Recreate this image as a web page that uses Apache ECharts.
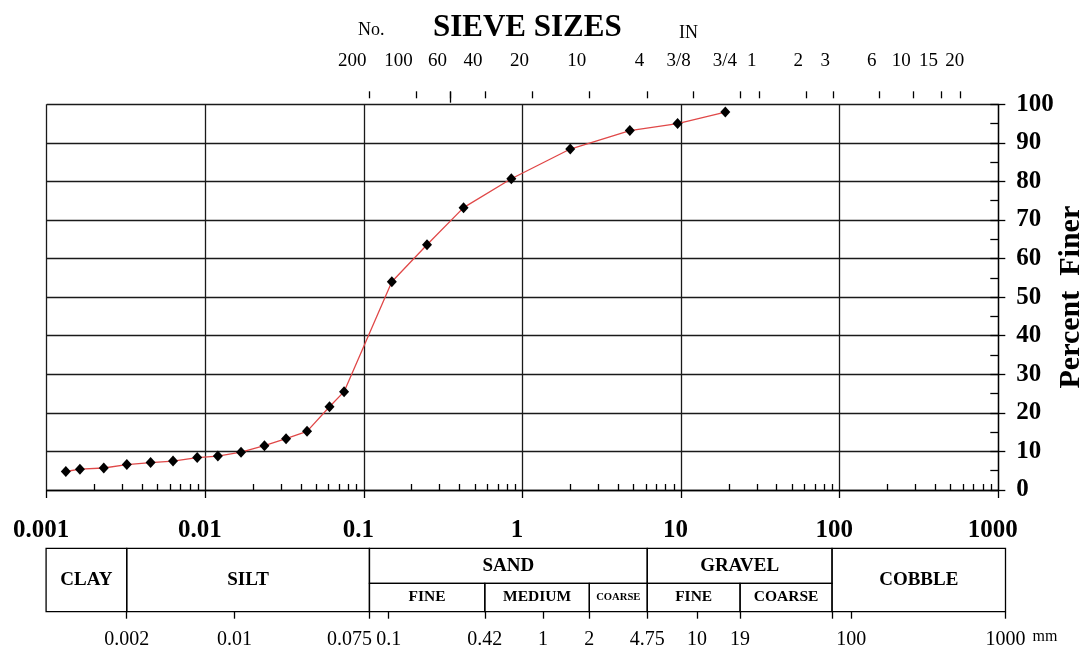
<!DOCTYPE html>
<html>
<head>
<meta charset="utf-8">
<script src="https://cdn.jsdelivr.net/npm/echarts@6/dist/echarts.min.js"></script>
<style>
  html, body { margin: 0; padding: 0; background: #fff; }
  #chart { width: 1083px; height: 646px; }
</style>
</head>
<body>
<div id="chart"></div>
<script>
// grain size curve (mm / % finer)
var grainSize = [0.00132, 0.00162, 0.00229, 0.0032, 0.00452, 0.00626, 0.00889, 0.0120, 0.0168, 0.0236, 0.0323, 0.0438, 0.0607,
  0.075, 0.15, 0.25, 0.425, 0.85, 2.0, 4.75, 9.5, 19.0];
var percentFiner = [4.8, 5.4, 5.7, 6.6, 7.1, 7.5, 8.4, 8.8, 9.8, 11.5, 13.3, 15.2, 21.6,
  25.5, 54.0, 63.6, 73.2, 80.7, 88.4, 93.2, 95.0, 98.0];

// main axis decades
var decadeTicks = [0.001, 0.01, 0.1, 1, 10, 100, 1000];
var decadeLabels = ['0.001', '0.01', '0.1', '1', '10', '100', '1000'];

// sieve sizes along the top (label / opening in mm)
var sieveNames = ['200', '100', '60', '40', '20', '10', '4', '3/8', '3/4', '1', '2', '3', '6', '10', '15', '20'];
var sieveMm = [0.075, 0.15, 0.25, 0.425, 0.85, 2.0, 4.75, 9.5, 19, 25.4, 50.8, 76.2, 152.4, 254, 381, 508];

// soil classification table
var soilNames = ['CLAY', 'SILT', 'SAND', 'FINE', 'MEDIUM', 'COARSE', 'GRAVEL', 'FINE', 'COARSE', 'COBBLE'];
var soilFrom = [0.0006, 0.002, 0.075, 0.075, 0.42, 2, 4.75, 4.75, 19, 75];
var soilTo = [0.002, 0.075, 4.75, 0.42, 2, 4.75, 75, 19, 75, 1000];
var soilRow = ['full', 'full', 'top', 'bottom', 'bottom', 'bottom', 'top', 'bottom', 'bottom', 'full'];

// size limits under the table
var limitTicks = [0.002, 0.01, 0.075, 0.1, 0.42, 1, 2, 4.75, 10, 19, 75, 100, 1000];
var limitLabels = ['0.002', '0.01', '0.075', '0.1', '0.42', '1', '2', '4.75', '10', '19', '', '100', '1000'];

var FONT = 'Liberation Serif';
var ROW_SPLIT = 0.448;
var black = '#000';

var minorTicks = [];
for (var k = -3; k < 3; k++) {
  for (var m = 2; m < 10; m++) minorTicks.push(m * Math.pow(10, k));
}

function nearest(vals, v) {
  var best = 0, d = Infinity;
  for (var i = 0; i < vals.length; i++) {
    var e = Math.abs(Math.log10(vals[i]) - Math.log10(v));
    if (e < d) { d = e; best = i; }
  }
  return best;
}

var curve = grainSize.map(function (s, i) { return [s, percentFiner[i]]; });
var soilData = soilFrom.map(function (f, i) { return [f, soilTo[i], i]; });

function renderSoil(params, api) {
  var i = params.dataIndex;
  var row = soilRow[i];
  var yTop = row === 'bottom' ? ROW_SPLIT : 1;
  var yBot = row === 'top' ? ROW_SPLIT : 0;
  var p0 = api.coord([api.value(0), yTop]);
  var p1 = api.coord([api.value(1), yBot]);
  var w = p1[0] - p0[0], h = p1[1] - p0[1];
  var base = row === 'bottom' ? 15.5 : 19;
  var fs = Math.min(base, (w - 12) / (soilNames[i].length * 0.72));
  return {
    type: 'group',
    children: [
      { type: 'rect', shape: { x: p0[0], y: p0[1], width: w, height: h },
        style: { fill: 'none', stroke: black, lineWidth: 1.3 } },
      { type: 'text', style: { text: soilNames[i], x: p0[0] + w / 2, y: p0[1] + h / 2,
        align: 'center', verticalAlign: 'middle', fontSize: fs, fontWeight: 'bold', fontFamily: FONT, fill: black } }
    ]
  };
}

var lineStyle = { color: black, width: 1.3 };
var logRange = { type: 'log', logBase: 10, min: 0.001, max: 1000 };

function makeGrid(left, top, width, height) {
  return { left: left, top: top, width: width, height: height, outerBoundsMode: 'none', containLabel: false };
}

var myChart = echarts.init(document.getElementById('chart'));
var option = {
  animation: false,
  backgroundColor: '#fff',
  title: [
    { text: 'SIEVE SIZES', left: 433, top: 12, padding: 0,
      textStyle: { fontSize: 31, fontWeight: 'bold', fontFamily: FONT, color: black } },
    { text: 'No.', left: 358, top: 21, padding: 0,
      textStyle: { fontSize: 18, fontWeight: 'normal', fontFamily: FONT, color: black } },
    { text: 'IN', left: 679, top: 24, padding: 0,
      textStyle: { fontSize: 18, fontWeight: 'normal', fontFamily: FONT, color: black } }
  ],
  grid: [
    makeGrid(46.7, 104.3, 951.6, 385.7),
    makeGrid(46.7, 104.3, 951.6, 385.7),
    makeGrid(80.3, 78.3, 925.2, 20),
    makeGrid(80.3, 82.7, 925.2, 20),
    makeGrid(80.3, 548.3, 925.2, 63.4)
  ],
  xAxis: [
    Object.assign({}, logRange, {
      gridIndex: 0, position: 'bottom',
      axisLine: { show: true, lineStyle: lineStyle },
      axisTick: { show: true, length: 8, customValues: decadeTicks, lineStyle: lineStyle },
      axisLabel: {
        customValues: decadeTicks, margin: 28, padding: [0, 11, 0, 0],
        fontSize: 25, fontWeight: 'bold', fontFamily: FONT, color: black,
        formatter: function (v) { return decadeLabels[nearest(decadeTicks, v)]; }
      },
      splitLine: { show: true, lineStyle: { color: '#1a1a1a', width: 1.3 } }
    }),
    Object.assign({}, logRange, {
      gridIndex: 1, position: 'bottom',
      axisLine: { show: false },
      axisTick: { show: true, inside: true, length: 6, customValues: minorTicks, lineStyle: lineStyle },
      axisLabel: { show: false },
      splitLine: { show: false }
    }),
    Object.assign({}, logRange, {
      gridIndex: 2, position: 'top',
      axisLine: { show: false },
      axisTick: { show: true, length: 7, customValues: sieveMm, lineStyle: lineStyle },
      axisLabel: {
        customValues: sieveMm, margin: 8, align: 'right', padding: [0, 3, 0, 0],
        fontSize: 19, fontFamily: FONT, color: black,
        formatter: function (v) {
          var i = nearest(sieveMm, v);
          return i === sieveNames.length - 1 ? '{last|' + sieveNames[i] + '}' : sieveNames[i];
        },
        rich: { last: { padding: [0, -7, 0, 0], fontSize: 19, fontFamily: FONT, color: black } }
      },
      splitLine: { show: false }
    }),
    Object.assign({}, logRange, {
      gridIndex: 3, position: 'top',
      axisLine: { show: false },
      axisTick: { show: true, length: 11, customValues: [sieveMm[sieveNames.indexOf('60')]], lineStyle: lineStyle },
      axisLabel: { show: false },
      splitLine: { show: false }
    }),
    Object.assign({}, logRange, {
      gridIndex: 4, position: 'bottom',
      axisLine: { show: false },
      axisTick: { show: true, length: 7, customValues: limitTicks, lineStyle: lineStyle },
      axisLabel: {
        customValues: limitTicks, margin: 18,
        fontSize: 20, fontFamily: FONT, color: black,
        formatter: function (v) {
          var s = limitLabels[nearest(limitTicks, v)];
          return s === '0.075' ? '{shift|' + s + '}' : s;
        },
        rich: { shift: { padding: [0, 40, 0, 0], fontSize: 20, fontFamily: FONT, color: black } }
      },
      splitLine: { show: false },
      name: 'mm', nameLocation: 'end', nameGap: 27,
      nameTextStyle: { fontSize: 16, fontFamily: FONT, color: black, verticalAlign: 'top', lineHeight: 50 }
    })
  ],
  yAxis: [
    {
      gridIndex: 0, type: 'value', min: 0, max: 100, interval: 10, position: 'right',
      axisLine: { show: true, lineStyle: lineStyle },
      axisTick: { show: true, length: 7, lineStyle: lineStyle },
      axisLabel: { margin: 18, fontSize: 25, fontWeight: 'bold', fontFamily: FONT, color: black },
      splitLine: { show: true, lineStyle: { color: '#1a1a1a', width: 1.3 } },
      name: 'Percent  Finer', nameLocation: 'middle', nameRotate: 90, nameGap: 58,
      nameMoveOverlap: false,
      nameTextStyle: { fontSize: 30, fontWeight: 'bold', fontFamily: FONT, color: black }
    },
    {
      gridIndex: 1, type: 'value', min: 0, max: 100, interval: 5, position: 'right',
      axisLine: { show: false },
      axisTick: { show: true, inside: true, length: 8, lineStyle: lineStyle },
      axisLabel: { show: false },
      splitLine: { show: false }
    },
    { gridIndex: 2, type: 'value', show: false, min: 0, max: 1 },
    { gridIndex: 3, type: 'value', show: false, min: 0, max: 1 },
    { gridIndex: 4, type: 'value', show: false, min: 0, max: 1 }
  ],
  series: [
    {
      type: 'line', xAxisIndex: 0, yAxisIndex: 0,
      data: curve,
      symbol: 'diamond', symbolSize: [10, 11],
      itemStyle: { color: black },
      lineStyle: { color: '#e04848', width: 1.3 },
      z: 5
    },
    {
      type: 'custom', xAxisIndex: 4, yAxisIndex: 4,
      data: soilData,
      renderItem: renderSoil,
      encode: { x: [0, 1], y: 2 },
      clip: false,
      silent: true
    }
  ]
};
myChart.setOption(option, true);
window.addEventListener('resize', function () { myChart.resize(); });
</script>
</body>
</html>
